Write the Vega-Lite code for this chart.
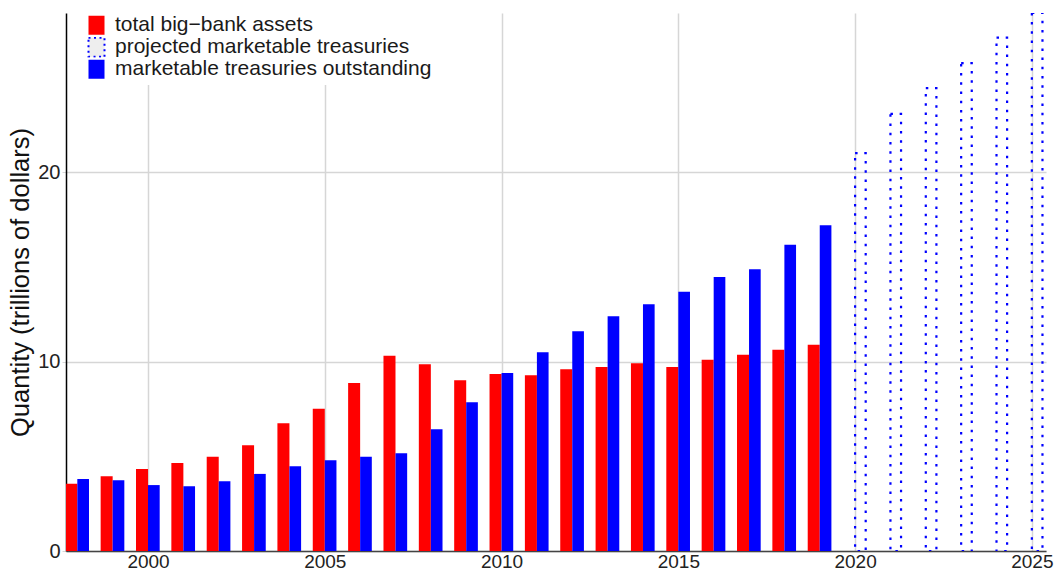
{
  "$schema": "https://vega.github.io/schema/vega-lite/v6.json",
  "autosize": "none",
  "width": 980,
  "height": 538,
  "padding": {"left": 66, "top": 13, "right": 10, "bottom": 19},
  "background": "white",
  "config": {
    "view": {"stroke": null},
    "font": "Liberation Sans"
  },
  "data": {
    "values": [
      {"Year": 1998, "series": "total big−bank assets", "value": 3.55},
      {"Year": 1999, "series": "total big−bank assets", "value": 3.94},
      {"Year": 2000, "series": "total big−bank assets", "value": 4.33},
      {"Year": 2001, "series": "total big−bank assets", "value": 4.65},
      {"Year": 2002, "series": "total big−bank assets", "value": 4.98},
      {"Year": 2003, "series": "total big−bank assets", "value": 5.58},
      {"Year": 2004, "series": "total big−bank assets", "value": 6.74},
      {"Year": 2005, "series": "total big−bank assets", "value": 7.51},
      {"Year": 2006, "series": "total big−bank assets", "value": 8.87},
      {"Year": 2007, "series": "total big−bank assets", "value": 10.31},
      {"Year": 2008, "series": "total big−bank assets", "value": 9.86},
      {"Year": 2009, "series": "total big−bank assets", "value": 9.01},
      {"Year": 2010, "series": "total big−bank assets", "value": 9.35},
      {"Year": 2011, "series": "total big−bank assets", "value": 9.28},
      {"Year": 2012, "series": "total big−bank assets", "value": 9.59},
      {"Year": 2013, "series": "total big−bank assets", "value": 9.71},
      {"Year": 2014, "series": "total big−bank assets", "value": 9.91},
      {"Year": 2015, "series": "total big−bank assets", "value": 9.71},
      {"Year": 2016, "series": "total big−bank assets", "value": 10.10},
      {"Year": 2017, "series": "total big−bank assets", "value": 10.36},
      {"Year": 2018, "series": "total big−bank assets", "value": 10.63},
      {"Year": 2019, "series": "total big−bank assets", "value": 10.89},
      {"Year": 1998, "series": "marketable treasuries outstanding", "value": 3.80},
      {"Year": 1999, "series": "marketable treasuries outstanding", "value": 3.73},
      {"Year": 2000, "series": "marketable treasuries outstanding", "value": 3.48},
      {"Year": 2001, "series": "marketable treasuries outstanding", "value": 3.42},
      {"Year": 2002, "series": "marketable treasuries outstanding", "value": 3.68},
      {"Year": 2003, "series": "marketable treasuries outstanding", "value": 4.07},
      {"Year": 2004, "series": "marketable treasuries outstanding", "value": 4.47},
      {"Year": 2005, "series": "marketable treasuries outstanding", "value": 4.79},
      {"Year": 2006, "series": "marketable treasuries outstanding", "value": 4.98},
      {"Year": 2007, "series": "marketable treasuries outstanding", "value": 5.16},
      {"Year": 2008, "series": "marketable treasuries outstanding", "value": 6.43},
      {"Year": 2009, "series": "marketable treasuries outstanding", "value": 7.85},
      {"Year": 2010, "series": "marketable treasuries outstanding", "value": 9.40},
      {"Year": 2011, "series": "marketable treasuries outstanding", "value": 10.49},
      {"Year": 2012, "series": "marketable treasuries outstanding", "value": 11.60},
      {"Year": 2013, "series": "marketable treasuries outstanding", "value": 12.39},
      {"Year": 2014, "series": "marketable treasuries outstanding", "value": 13.03},
      {"Year": 2015, "series": "marketable treasuries outstanding", "value": 13.69},
      {"Year": 2016, "series": "marketable treasuries outstanding", "value": 14.47},
      {"Year": 2017, "series": "marketable treasuries outstanding", "value": 14.87},
      {"Year": 2018, "series": "marketable treasuries outstanding", "value": 16.16},
      {"Year": 2019, "series": "marketable treasuries outstanding", "value": 17.20},
      {"Year": 2020, "series": "projected marketable treasuries", "value": 21.0},
      {"Year": 2021, "series": "projected marketable treasuries", "value": 23.07},
      {"Year": 2022, "series": "projected marketable treasuries", "value": 24.43},
      {"Year": 2023, "series": "projected marketable treasuries", "value": 25.75},
      {"Year": 2024, "series": "projected marketable treasuries", "value": 27.1},
      {"Year": 2025, "series": "projected marketable treasuries", "value": 28.4}
    ]
  },
  "encoding": {
    "x": {
      "field": "x0",
      "type": "quantitative",
      "scale": {"domain": [1997.68, 2025.4], "nice": false, "zero": false},
      "axis": {
        "title": null,
        "values": [2000, 2005, 2010, 2015, 2020, 2025],
        "format": "d",
        "labelFontSize": 19,
        "labelColor": "#222",
        "labelPadding": 1,
        "labelFlush": false,
        "ticks": false,
        "domainColor": "#444",
        "domainWidth": 1.5,
        "grid": true,
        "gridColor": "#d6d6d6",
        "gridWidth": 1.5
      }
    },
    "x2": {"field": "x1"},
    "y": {
      "field": "value",
      "type": "quantitative",
      "scale": {"domain": [0, 28.4], "nice": false},
      "axis": {
        "title": "Quantity (trillions of dollars)",
        "titleFontSize": 25.5,
        "titleFontWeight": "normal",
        "titleColor": "#111",
        "titlePadding": 4,
        "values": [0, 10, 20],
        "labelFontSize": 20,
        "labelColor": "#222",
        "labelPadding": 2,
        "tickColor": "#d6d6d6",
        "tickSize": 4,
        "domainColor": "#000",
        "domainWidth": 1.5,
        "grid": true,
        "gridColor": "#d6d6d6",
        "gridWidth": 1.5
      }
    },
    "y2": {"datum": 0}
  },
  "layer": [
    {
      "transform": [
        {"filter": "datum.series !== 'projected marketable treasuries'"},
        {"calculate": "datum.series === 'marketable treasuries outstanding' ? datum.Year : datum.Year - 0.34", "as": "x0"},
        {"calculate": "datum.series === 'marketable treasuries outstanding' ? datum.Year + 0.33 : datum.Year", "as": "x1"}
      ],
      "mark": {"type": "bar", "clip": true},
      "encoding": {
        "color": {
          "field": "series",
          "type": "nominal",
          "scale": {
            "domain": ["total big−bank assets", "projected marketable treasuries", "marketable treasuries outstanding"],
            "range": ["#ff0000", "#eeeeee", "#0000ff"]
          },
          "legend": {
            "orient": "none",
            "legendX": 15,
            "legendY": -3,
            "title": null,
            "fillColor": "white",
            "padding": 5,
            "symbolType": "M-1,-1.19H1V1.19H-1Z",
            "symbolSize": 256,
            "symbolStrokeWidth": 0,
            "symbolOpacity": 1,
            "clipHeight": 20.5,
            "labelFontSize": 21,
            "labelFont": "Liberation Sans",
            "labelColor": "#1a1a1a",
            "labelOffset": 8,
            "rowPadding": 0,
            "labelLimit": 500,
            "encode": {
              "symbols": {
                "update": {
                  "stroke": {"value": "#0000ff"},
                  "strokeWidth": {"signal": "datum.value === 'projected marketable treasuries' ? 2 : 0"},
                  "strokeDash": {"value": [2, 3.5]}
                }
              }
            }
          }
        }
      }
    },
    {
      "transform": [
        {"filter": "datum.series === 'projected marketable treasuries'"},
        {"calculate": "datum.Year", "as": "x0"},
        {"calculate": "datum.Year + 0.3", "as": "x1"}
      ],
      "mark": {
        "type": "bar",
        "clip": true,
        "fill": "transparent",
        "stroke": "#0000ff",
        "strokeWidth": 2.2,
        "strokeDash": [2.5, 6.7]
      }
    }
  ]
}
